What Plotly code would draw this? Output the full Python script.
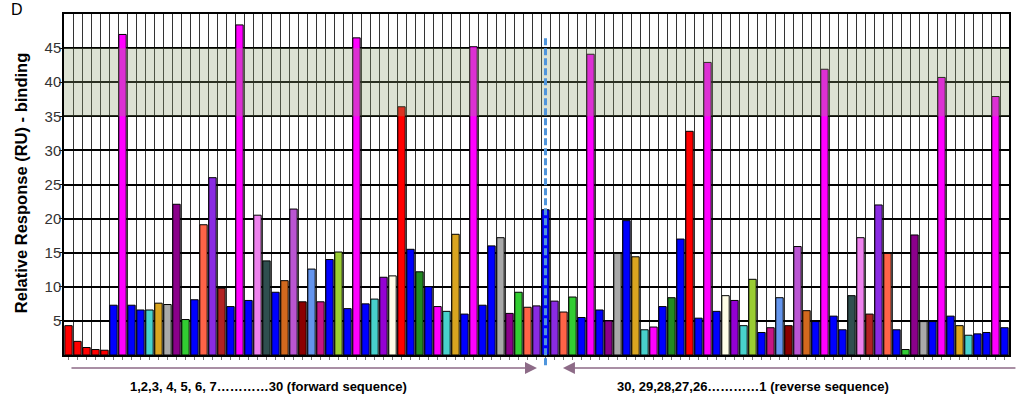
import plotly.graph_objects as go

# ---- data ----
values = [4.3, 2.0, 1.1, 0.8, 0.7, 7.3, 47.0, 7.3, 6.6, 6.6,
          7.6, 7.4, 22.1, 5.2, 8.1, 19.1, 26.0, 9.8, 7.1, 48.4,
          8.0, 20.5, 13.8, 9.2, 10.9, 21.4, 7.8, 12.6, 7.8, 14.0,
          15.1, 6.8, 46.5, 7.5, 8.2, 11.4, 11.6, 36.4, 15.5, 12.2,
          10.0, 7.1, 6.4, 17.7, 6.0, 45.2, 7.3, 16.0, 17.2, 6.1,
          9.2, 7.0, 7.2, 21.3, 7.9, 6.3, 8.5, 5.5, 44.1, 6.6,
          5.0, 14.9, 19.7, 14.4, 3.7, 4.1, 7.1, 8.4, 17.0, 32.8,
          5.4, 42.9, 6.4, 8.7, 8.0, 4.3, 11.1, 3.3, 4.0, 8.4,
          4.3, 15.9, 6.5, 4.9, 41.9, 5.7, 3.7, 8.7, 17.2, 6.0,
          22.0, 14.9, 3.7, 0.8, 17.6, 4.9, 4.9, 40.7, 5.7, 4.3,
          2.9, 3.1, 3.3, 37.9, 4.0]

color_names = ["red", "red", "red", "red", "red", "blue", "magenta", "blue", "blue", "turquoise",
               "goldenrod", "gray", "purple", "limegreen", "blue", "tomato", "blueviolet", "firebrick", "blue", "magenta",
               "blue", "violet", "slate", "blue", "chocolate", "orchid", "darkred", "cornflower", "mvred", "blue",
               "yellowgreen", "blue", "magenta", "blue", "turquoise", "darkviolet", "ivory", "red", "blue", "forestgreen",
               "blue", "magenta", "turquoise", "goldenrod", "blue", "magenta", "blue", "blue", "gray", "purple",
               "limegreen", "tomato", "blueviolet", "blue", "blueviolet", "tomato", "limegreen", "blue", "magenta", "blue",
               "purple", "gray", "blue", "goldenrod", "turquoise", "magenta", "blue", "forestgreen", "blue", "red",
               "blue", "magenta", "blue", "ivory", "darkviolet", "turquoise", "yellowgreen", "blue", "mvred", "cornflower",
               "darkred", "orchid", "chocolate", "blue", "magenta", "blue", "blue", "slate", "violet", "firebrick",
               "blueviolet", "tomato", "blue", "limegreen", "purple", "gray", "blue", "magenta", "blue", "goldenrod",
               "turquoise", "blue", "blue", "magenta", "blue"]

palette = {
    "red": "#ff0000", "blue": "#0000ff", "magenta": "#ff00ff", "turquoise": "#48d1cc",
    "goldenrod": "#daa520", "gray": "#a9a9a9", "purple": "#8b008b", "limegreen": "#32cd32",
    "tomato": "#ff6347", "blueviolet": "#8a2be2", "firebrick": "#b22222", "violet": "#ee82ee",
    "slate": "#2f4f4f", "chocolate": "#d2691e", "orchid": "#ba55d3", "darkred": "#8b0000",
    "cornflower": "#6495ed", "mvred": "#c71585", "yellowgreen": "#9acd32", "darkviolet": "#9400d3",
    "ivory": "#fffde6", "forestgreen": "#228b22",
}

positions = list(range(1, len(values) + 1))
y_ticks = [5, 10, 15, 20, 25, 30, 35, 40, 45]
band_low, band_high = 35, 45
center_position = 54

forward_label = "1,2,3, 4, 5, 6, 7…………30 (forward sequence)"
reverse_label = "30, 29,28,27,26…………1 (reverse sequence)"
y_title = "Relative Response (RU) - binding"
panel_label = "D"

FONT = "Liberation Sans, Arial, sans-serif"
ARROW = "#8d6b87"

fig = go.Figure()
fig.add_trace(go.Bar(
    x=positions, y=values,
    marker=dict(color=[palette[c] for c in color_names], line=dict(color="black", width=1)),
    hoverinfo="x+y",
))

# highlighted band (semi-transparent, over bars)
fig.add_shape(type="rect", xref="paper", yref="y", x0=0, x1=1, y0=band_low, y1=band_high,
              fillcolor="rgba(140,160,110,0.3)", line=dict(width=0), layer="above")

# dashed centre line
fig.add_shape(type="line", xref="x", yref="paper", x0=center_position, x1=center_position,
              y0=-0.03, y1=0.938, line=dict(color="#4f95dc", width=3, dash="7px,3px"), layer="above")

# arrows
fig.add_annotation(xref="paper", yref="paper", x=0.5005, y=-0.038, ax=-467, ay=0,
                   axref="pixel", ayref="pixel", showarrow=True, arrowhead=2, arrowsize=1.6,
                   arrowwidth=1.5, arrowcolor=ARROW, text="")
fig.add_annotation(xref="paper", yref="paper", x=0.528, y=-0.038, ax=454, ay=0,
                   axref="pixel", ayref="pixel", showarrow=True, arrowhead=2, arrowsize=1.6,
                   arrowwidth=1.5, arrowcolor=ARROW, text="")

fig.add_annotation(xref="paper", yref="paper", x=0.2164, y=-0.093, text=forward_label,
                   showarrow=False, font=dict(family=FONT, size=13, color="black", weight="bold"),
                   xanchor="center", yanchor="middle")
fig.add_annotation(xref="paper", yref="paper", x=0.7296, y=-0.093, text=reverse_label,
                   showarrow=False, font=dict(family=FONT, size=13, color="black", weight="bold"),
                   xanchor="center", yanchor="middle")
fig.add_annotation(xref="paper", yref="paper", x=-0.0455, y=0.504, text=y_title, textangle=-90,
                   showarrow=False, font=dict(family=FONT, size=16.5, color="black", weight="bold"),
                   xanchor="center", yanchor="middle")
fig.add_annotation(xref="paper", yref="paper", x=-0.058, y=1.012, text=panel_label,
                   showarrow=False, font=dict(family=FONT, size=16, color="black"),
                   xanchor="left", yanchor="middle")

fig.update_layout(
    width=1024, height=398,
    margin=dict(l=64, r=15, t=14, b=43),
    paper_bgcolor="white", plot_bgcolor="white",
    showlegend=False, bargap=0.18,
    font=dict(family=FONT),
    xaxis=dict(range=[0.5, len(values) + 0.5], tickvals=positions, showticklabels=False,
               ticks="outside", ticklen=3, tickcolor="#777", showgrid=False, zeroline=False,
               showline=True, linecolor="black", linewidth=1.5, mirror=True,
               minor=dict(tick0=0.5, dtick=1, showgrid=True, gridcolor="#333", gridwidth=1.3)),
    yaxis=dict(range=[0, 50], tickvals=y_ticks, ticktext=[str(v) for v in y_ticks],
               ticks="outside", ticklen=3, tickcolor="black", ticklabelstandoff=-5,
               tickfont=dict(family=FONT, size=15, color="#333"),
               showgrid=True, gridcolor="black", gridwidth=1.5, zeroline=False,
               showline=True, linecolor="black", linewidth=1.5, mirror=True),
)

# remove the default 8px page margin so the figure sits at the window's top-left corner
fig.write_html("out.html", config={"displayModeBar": False},
               post_script="document.body.style.margin='0px';")
